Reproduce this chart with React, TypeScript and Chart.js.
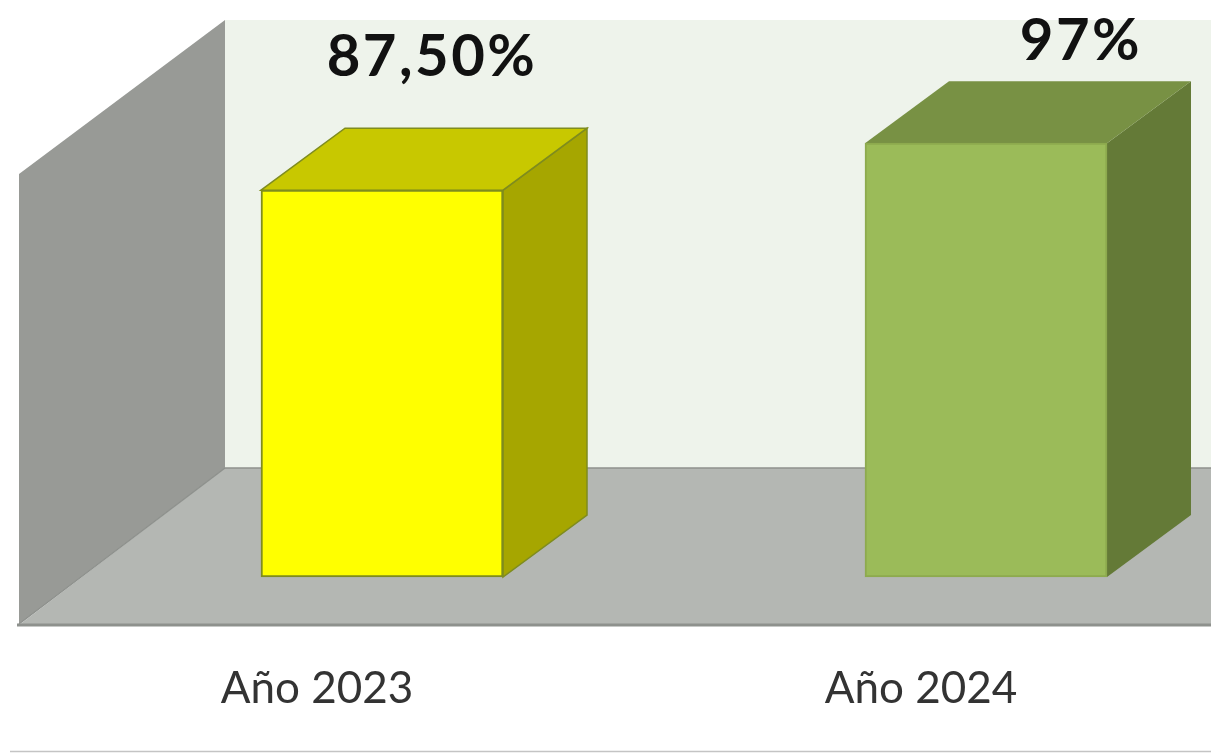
import React, { useEffect, useRef } from "react";
import { Chart, registerables } from "chart.js";

Chart.register(...registerables);

const categories = ["Año 2023", "Año 2024"];
const values = [87.5, 97];
const valueLabels = ["87,50%", "97%"];

const frontColors = ["#FFFF00", "#9BBB59"];
const topColors = ["#C8C800", "#789144"];
const sideColors = ["#A6A600", "#647A37"];
const edgeColors = ["#7F8C1E", "#8DAA4E"];
const labelShiftX = [50, 95];
const labelShiftY = [114, 83];

const AXIS_MIN = 9.3;
const AXIS_MAX = 121.9;
const DEPTH_X = 84;
const DEPTH_Y = 62;

function poly(ctx: CanvasRenderingContext2D, pts: number[][], fill: string, stroke?: string) {
  ctx.beginPath();
  pts.forEach(([x, y], i) => (i ? ctx.lineTo(x, y) : ctx.moveTo(x, y)));
  ctx.closePath();
  ctx.fillStyle = fill;
  ctx.fill();
  if (stroke) {
    ctx.strokeStyle = stroke;
    ctx.lineWidth = 1.5;
    ctx.stroke();
  }
}

const scenePlugin = {
  id: "scene3d",
  beforeDatasetsDraw(chart: any) {
    const ctx: CanvasRenderingContext2D = chart.ctx;
    const W = chart.width;
    const base = chart.scales.y.bottom;
    const wallTop = chart.scales.y.top;
    ctx.save();
    // back wall
    poly(ctx, [[225, wallTop], [W, wallTop], [W, 468], [225, 468]], "#EEF3EB");
    // floor
    poly(ctx, [[225, 468], [W, 468], [W, base + 48], [19, base + 48]], "#B4B7B3");
    // side wall
    poly(ctx, [[19, 174], [225, wallTop], [225, 468], [19, base + 47]], "#989A96");
    // edges
    ctx.strokeStyle = "#8E918D";
    ctx.lineWidth = 1.5;
    ctx.beginPath();
    ctx.moveTo(225, 468);
    ctx.lineTo(W, 468);
    ctx.moveTo(225, 468);
    ctx.lineTo(19, base + 47);
    ctx.stroke();
    ctx.lineWidth = 3;
    ctx.beginPath();
    ctx.moveTo(17, base + 48);
    ctx.lineTo(W, base + 48);
    ctx.stroke();
    ctx.strokeStyle = "#C4C4C4";
    ctx.lineWidth = 1.5;
    ctx.beginPath();
    ctx.moveTo(10, 751.5);
    ctx.lineTo(W, 751.5);
    ctx.stroke();
    // bar depth faces
    chart.getDatasetMeta(0).data.forEach((bar: any, i: number) => {
      const l = bar.x - bar.width / 2;
      const r = bar.x + bar.width / 2;
      const t = bar.y;
      const b = bar.base;
      poly(ctx, [[r, t], [r + DEPTH_X, t - DEPTH_Y], [r + DEPTH_X, b - DEPTH_Y], [r, b]], sideColors[i], i === 0 ? edgeColors[i] : undefined);
      poly(ctx, [[l, t], [l + DEPTH_X, t - DEPTH_Y], [r + DEPTH_X, t - DEPTH_Y], [r, t]], topColors[i], i === 0 ? edgeColors[i] : undefined);
    });
    ctx.restore();
  },
  afterDatasetsDraw(chart: any) {
    const ctx: any = chart.ctx;
    ctx.save();
    ctx.font = "bold 58px Lato";
    ctx.letterSpacing = "2.5px";
    ctx.fillStyle = "#111111";
    ctx.textAlign = "center";
    ctx.textBaseline = "alphabetic";
    chart.getDatasetMeta(0).data.forEach((bar: any, i: number) => {
      ctx.fillText(valueLabels[i], bar.x + labelShiftX[i], bar.y - labelShiftY[i]);
    });
    ctx.letterSpacing = "0px";
    ctx.restore();
  },
};

export default function App() {
  const ref = useRef<HTMLCanvasElement>(null);
  useEffect(() => {
    const chart = new Chart(ref.current!, {
      type: "bar",
      data: {
        labels: categories,
        datasets: [
          {
            data: values,
            base: AXIS_MIN,
            backgroundColor: frontColors,
            borderColor: edgeColors,
            borderWidth: 2,
            borderSkipped: false,
            barThickness: 242,
            clip: false,
          } as any,
        ],
      },
      options: {
        animation: false,
        responsive: false,
        devicePixelRatio: 1,
        layout: { padding: { left: 382, right: 225, top: 20, bottom: 0 } },
        plugins: { legend: { display: false }, tooltip: { enabled: false }, title: { display: false } },
        scales: {
          x: {
            offset: false,
            grid: { display: false },
            border: { display: false },
            afterFit: (s: any) => {
              s.height = 176;
            },
            ticks: {
              autoSkip: false,
              maxRotation: 0,
              minRotation: 0,
              padding: 77,
              labelOffset: -65,
              color: "#333333",
              font: { family: "Lato", size: 44 },
            },
          },
          y: { display: false, min: AXIS_MIN, max: AXIS_MAX },
        },
      },
      plugins: [scenePlugin],
    } as any);
    return () => chart.destroy();
  }, []);
  return (
    <div style={{ position: "fixed", left: 0, top: 0, width: 1211, height: 753, overflow: "hidden", background: "#fff" }}>
      <canvas ref={ref} width={1211} height={753} style={{ display: "block" }} />
    </div>
  );
}
